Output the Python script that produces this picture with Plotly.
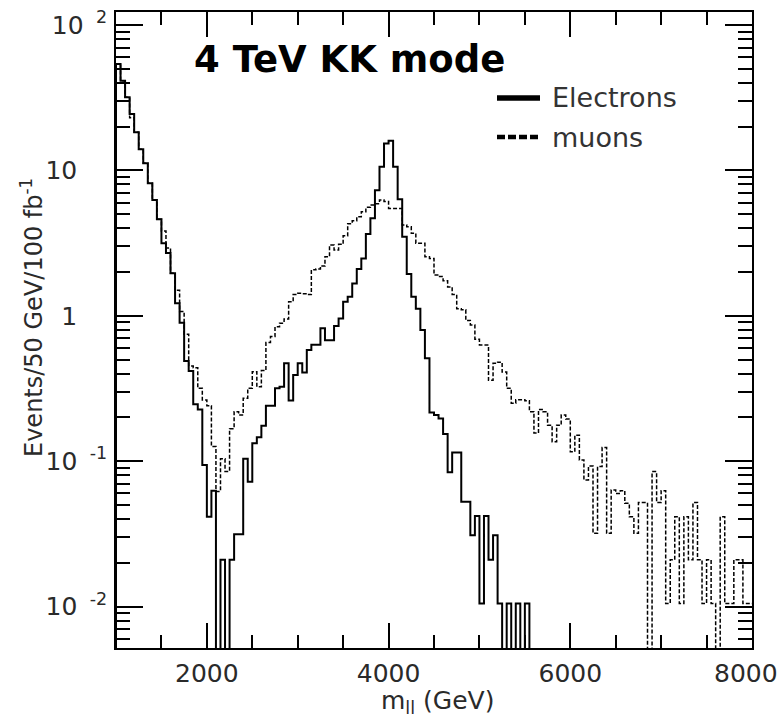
import numpy as np
import plotly.graph_objects as go

# ---- data ----
bin_start = 1000.0   # GeV
bin_width = 50.0     # GeV
series_names = ["Electrons", "muons"]

electrons = [
    54, 41.4, 31.8, 24.4, 18.3, 14.0, 11.2, 8.15, 6.26, 4.61,
    3.15, 2.70, 1.96, 1.22, 0.897, 0.489, 0.417, 0.246, 0.227, 0.0942,
    0.0415, 0.0627, 0, 0.021, 0, 0.021, 0.0314, 0.0314, 0.104, 0.0723,
    0.133, 0.146, 0.175, 0.241, 0.241, 0.317, 0.325, 0.471, 0.261, 0.392,
    0.471, 0.408, 0.582, 0.633, 0.633, 0.82, 0.68, 0.68, 0.85, 0.96,
    1.25, 1.35, 1.67, 2.1, 2.48, 3.65, 4.68, 7.3, 10.6, 15.3,
    16.0, 10.6, 6.33, 3.5, 1.94, 1.35, 1.12, 0.80, 0.51, 0.216,
    0.208, 0.197, 0.154, 0.0838, 0.115, 0.115, 0.0526, 0.0526, 0.031, 0.042,
    0.0105, 0.042, 0.021, 0.031, 0.0105, 0, 0.0105, 0, 0.0105, 0,
    0.0105, 0, 0, 0, 0, 0, 0, 0, 0, 0,
    0, 0, 0, 0, 0, 0, 0, 0, 0, 0,
    0, 0, 0, 0, 0, 0, 0, 0, 0, 0,
    0, 0, 0, 0, 0, 0, 0, 0, 0, 0,
    0, 0, 0, 0, 0, 0, 0, 0, 0, 0,
]

muons = [
    54, 41.4, 31.8, 23.0, 18.3, 14.0, 11.2, 8.15, 6.26, 4.61,
    3.83, 2.93, 1.96, 1.50, 1.07, 0.746, 0.452, 0.440, 0.317, 0.264,
    0.241, 0.126, 0.062, 0.104, 0.085, 0.167, 0.219, 0.208, 0.271, 0.317,
    0.413, 0.325, 0.42, 0.655, 0.72, 0.84, 0.89, 0.95, 1.25, 1.40,
    1.43, 1.42, 1.40, 2.07, 2.10, 2.2, 2.55, 3.07, 2.84, 3.1,
    3.55, 4.3, 4.5, 4.8, 5.2, 5.57, 5.78, 5.9, 6.26, 6.1,
    5.48, 5.48, 5.48, 4.21, 4.10, 3.69, 3.15, 3.15, 2.55, 2.48,
    1.91, 1.86, 1.74, 1.58, 1.40, 1.12, 1.10, 0.93, 0.865, 0.69,
    0.63, 0.63, 0.36, 0.471, 0.48, 0.41, 0.317, 0.25, 0.265, 0.265,
    0.26, 0.219, 0.156, 0.227, 0.219, 0.177, 0.136, 0.177, 0.208, 0.195,
    0.116, 0.151, 0.102, 0.0743, 0.0927, 0.0319, 0.0918, 0.124, 0.0319, 0.0633,
    0.060, 0.0627, 0.0513, 0.0415, 0.0319, 0.052, 0.052, 0, 0.0848, 0.052,
    0.0627, 0.0105, 0.021, 0.0415, 0.0105, 0.0415, 0.021, 0.052, 0.021, 0.0105,
    0.021, 0.0105, 0, 0.0415, 0.0105, 0.0105, 0.021, 0.021, 0.0105, 0.0105,
]

x_tick_vals = [2000, 4000, 6000, 8000]
x_tick_text = ["2000", "4000", "6000", "8000"]
x_minor_vals = [1500, 2500, 3000, 3500, 4500, 5000, 5500, 6500, 7000, 7500]
y_tick_vals = [0.01, 0.1, 1, 10, 100]
y_tick_text = ["10\u2002<sup>-2</sup>", "10\u2002<sup>-1</sup>",
               "1\u2003\u2009", "10\u2003\u2009", "10\u2002<sup>2</sup>"]

title_text = "<b>4 TeV KK mode</b>"
x_title = "m<sub>ll</sub> (GeV)"
y_title = "Events/50 GeV/100 fb<sup>-1</sup>"

# ---- build step outlines ----
FLOOR = 1e-5  # empty bins drawn to below the axis (log scale)


def step_xy(vals):
    v = np.asarray(vals, dtype=float)
    v = np.where(v > 0, v, FLOOR)
    edges = bin_start + bin_width * np.arange(len(v) + 1)
    xs = np.concatenate([[edges[0]], edges])
    ys = np.concatenate([[FLOOR], v, [v[-1]]])
    return xs, ys

fig = go.Figure()
xe, ye = step_xy(electrons)
xm, ym = step_xy(muons)
fig.add_trace(go.Scatter(x=xm, y=ym, mode="lines", name=series_names[1],
                         line=dict(shape="hv", color="black", width=1.5, dash="4px,2px"),
                         showlegend=False, hoverinfo="skip"))
fig.add_trace(go.Scatter(x=xe, y=ye, mode="lines", name=series_names[0],
                         line=dict(shape="hv", color="black", width=2),
                         showlegend=False, hoverinfo="skip"))

L, R, T, B = 116, 29, 12, 76
W, H = 781, 724
pw, ph = W - L - R, H - T - B


def px_x(p):
    return (p - L) / pw


def px_y(p):
    return (H - B - p) / ph

y_minor = [k * 10.0 ** e for e in range(-3, 2) for k in range(2, 10)]
y_minor = [v for v in y_minor if 0.0052 < v < 122]

# the last x label sits at the page edge: it is drawn as an annotation pulled
# slightly inward so that it is not clipped (as in the original)
axis_tick_text = x_tick_text[:-1] + [""]

fig.update_layout(
    width=W, height=H,
    margin=dict(l=L, r=R, t=T, b=B, autoexpand=False),
    paper_bgcolor="white", plot_bgcolor="white",
    font=dict(family="DejaVu Sans", size=25, color="#2a2a2a"),
    showlegend=False,
    xaxis=dict(
        range=[1000, 8000], tickmode="array", tickvals=x_tick_vals, ticktext=axis_tick_text,
        ticks="inside", ticklen=25, tickwidth=1.5, tickcolor="black",
        showline=True, linecolor="black", linewidth=1.5, mirror="allticks",
        showgrid=False, zeroline=False, ticklabelstandoff=2,
        automargin=False,
        minor=dict(tickmode="array", tickvals=x_minor_vals, ticks="inside",
                   ticklen=13, tickwidth=1.5, tickcolor="black", showgrid=False),
    ),
    yaxis=dict(
        type="log", range=[-2.2847, 2.0894], tickmode="array",
        tickvals=y_tick_vals, ticktext=y_tick_text,
        ticks="inside", ticklen=27, tickwidth=1.5, tickcolor="black",
        showline=True, linecolor="black", linewidth=1.5, mirror="allticks",
        showgrid=False, zeroline=False, ticklabelstandoff=2, automargin=False,
        minor=dict(tickmode="array", tickvals=y_minor, ticks="inside",
                   ticklen=14, tickwidth=1.5, tickcolor="black", showgrid=False),
    ),
)

fig.add_annotation(text=x_tick_text[-1], xref="x", yref="paper",
                   x=x_tick_vals[-1], xshift=27, y=px_y(673),
                   xanchor="right", yanchor="middle", showarrow=False,
                   borderpad=0, font=dict(size=25, color="#2a2a2a"))

# title inside the frame
fig.add_annotation(text=title_text, xref="paper", yref="paper",
                   x=px_x(349), y=px_y(60), xanchor="center", yanchor="middle",
                   showarrow=False, font=dict(family="DejaVu Sans", size=37, color="black"))

# axis titles
fig.add_annotation(text=x_title, xref="paper", yref="paper",
                   x=px_x(437), y=px_y(702), xanchor="center", yanchor="middle",
                   showarrow=False, font=dict(size=25))
fig.add_annotation(text=y_title, xref="paper", yref="paper",
                   x=px_x(32), y=px_y(318), xanchor="center", yanchor="middle",
                   textangle=-90, showarrow=False, font=dict(size=24))

# legend (drawn box-free, like the original)
leg_rows = [(98, dict(color="black", width=5.5)),
            (137, dict(color="black", width=4.5, dash="8px,3px"))]
for (ypx, ln), name in zip(leg_rows, series_names):
    fig.add_shape(type="line", xref="paper", yref="paper",
                  x0=px_x(497), x1=px_x(540), y0=px_y(ypx), y1=px_y(ypx), line=ln)
    fig.add_annotation(text=name, xref="paper", yref="paper",
                       x=px_x(550), y=px_y(ypx), xanchor="left", yanchor="middle",
                       showarrow=False, font=dict(size=27, color="#333333"))

fig.write_html("out.html")
